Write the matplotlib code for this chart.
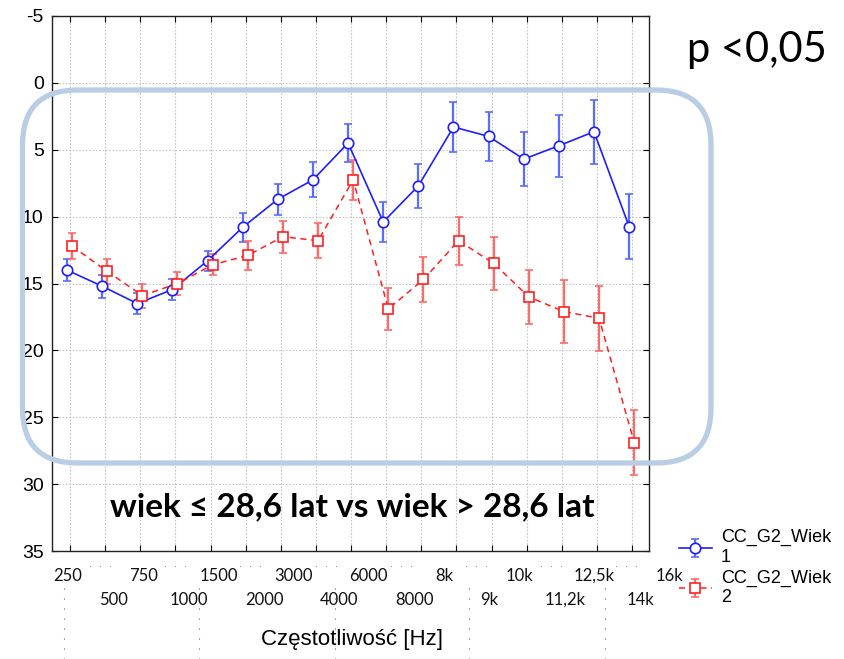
import numpy as np
import matplotlib
matplotlib.use("Agg")
import matplotlib.pyplot as plt
from matplotlib.patches import FancyBboxPatch
from matplotlib.lines import Line2D

plt.rcParams["axes.unicode_minus"] = False

# frequencies (category axis)
freq_labels = ["250", "500", "750", "1000", "1500", "2000", "3000", "4000", "6000",
               "8000", "8k", "9k", "10k", "11,2k", "12,5k", "14k", "16k"]

# group 1 (wiek <= 28,6) - means and error half-widths
g1_mean = [14.0, 15.2, 16.5, 15.45, 13.3, 10.8, 8.7, 7.25, 4.5,
           10.4, 7.7, 3.3, 4.0, 5.7, 4.7, 3.65, 10.75]
g1_err = [0.85, 0.85, 0.8, 0.8, 0.75, 1.1, 1.15, 1.3, 1.45,
          1.5, 1.65, 1.85, 1.85, 2.0, 2.3, 2.4, 2.45]

# group 2 (wiek > 28,6)
g2_mean = [12.2, 14.1, 15.9, 15.0, 13.6, 12.9, 11.5, 11.8, 7.25,
           16.9, 14.7, 11.8, 13.5, 16.0, 17.1, 17.6, 26.9]
g2_err = [0.95, 0.9, 0.9, 0.85, 0.8, 1.1, 1.2, 1.3, 1.5,
          1.55, 1.7, 1.8, 1.95, 2.0, 2.35, 2.45, 2.45]

W, H, DPI = 844, 659, 100
fig = plt.figure(figsize=(W / DPI, H / DPI), dpi=DPI)
ax = fig.add_axes([52 / W, 1 - 551 / H, (649 - 52) / W, (551 - 16) / H])

x = np.arange(len(freq_labels))

blue_line = "#1e1eff"
blue_bar = "#5a6cff"
red_line = "#ff2020"
red_bar = "#ff6a6a"

e1 = ax.errorbar(x - 0.085, g1_mean, yerr=g1_err, color=blue_line, ecolor=blue_bar,
                 lw=1.2, elinewidth=1.6, capsize=2.8, capthick=1.4,
                 marker="o", ms=7.5, mfc="white", mec=blue_line, mew=1.2, zorder=3)
e2 = ax.errorbar(x + 0.06, g2_mean, yerr=g2_err, color=red_line, ecolor=red_bar,
                 lw=1.1, ls=(0, (4, 3)), elinewidth=1.6, capsize=2.8, capthick=1.4,
                 marker="s", ms=7.5, mfc="white", mec=red_line, mew=1.2, zorder=3)

ax.set_xlim(-0.512, 16.48)
ax.set_ylim(35, -5)
ax.set_yticks(np.arange(-5, 36, 5))
ax.set_xticks(x)
ax.set_xticklabels([])
ax.grid(True, color="#c4c4c4", ls=(0, (1.5, 1.5)), lw=0.8)
ax.tick_params(direction="in", top=True, right=True, length=4, width=0.8,
               labelsize=14, pad=6)
for lab in ax.get_yticklabels():
    lab.set_family("Liberation Sans")
for s in ax.spines.values():
    s.set_linewidth(1.0)
    s.set_color("#222222")

# two-row frequency labels (Statistica style, slightly wider spacing than points)
for i, lab in enumerate(freq_labels):
    px = 68 + 37.6 * i + (8 if i % 2 else 0)
    py = 576 if i % 2 == 0 else 600
    fig.text(px / W, 1 - py / H, lab, ha="center", va="center",
             fontsize=12, family="Lato", color="#111111")

# dotted separators below the axis
for px in [64, 199, 335, 469, 605]:
    fig.add_artist(Line2D([px / W, px / W], [1 - 588 / H, 0.0],
                          color="#666666", lw=0.8, ls=(0, (1, 8))))
for i in range(0, 16, 2):
    c = 68 + 37.6 * i
    for dx in [22, 32, 42]:
        fig.add_artist(Line2D([(c + dx) / W], [1 - 566 / H], marker="o", ms=0.8,
                              mew=0, color="#888888", ls="none"))

fig.text(352 / W, 1 - 640 / H, "Częstotliwość [Hz]", ha="center", va="center",
         fontsize=16, family="Liberation Sans")

# annotations
fig.text(687 / W, 1 - 50 / H, "p <0,05", ha="left", va="center",
         fontsize=30, family=["Lato", "DejaVu Sans"])
fig.text(352 / W, 1 - 507 / H, "wiek ≤ 28,6 lat vs wiek > 28,6 lat", ha="center",
         va="center", fontsize=24, fontweight="bold", family=["Lato", "DejaVu Sans"])

box = FancyBboxPatch((22.5 / DPI, (H - 463) / DPI), (711 - 22.5) / DPI, (463 - 90) / DPI,
                     boxstyle="round,pad=0,rounding_size=0.55",
                     transform=fig.dpi_scale_trans, fill=False,
                     ec="#b9cde5", lw=3.8, zorder=10)
fig.add_artist(box)

leg = fig.legend([e1, e2], ["CC_G2_Wiek\n1", "CC_G2_Wiek\n2"],
                 loc="upper left", bbox_to_anchor=(672 / W, 1 - 522 / H),
                 frameon=False, prop={"family": "Liberation Sans", "size": 13},
                 handlelength=1.8, handletextpad=0.5, labelspacing=0.2,
                 borderaxespad=0)

fig.savefig("out.png", dpi=DPI)
